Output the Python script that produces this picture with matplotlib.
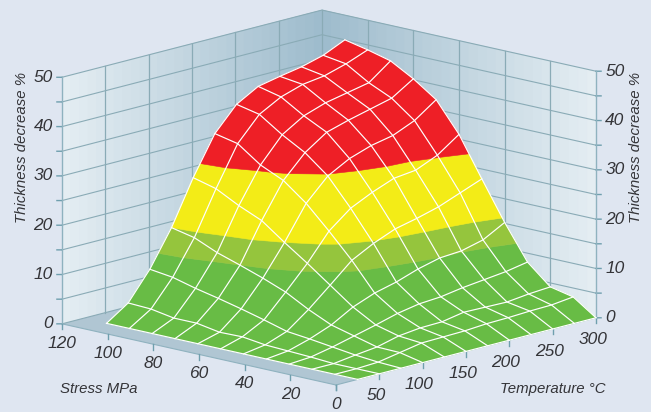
import matplotlib
matplotlib.use('Agg')
import matplotlib.pyplot as plt
import numpy as np
from mpl_toolkits.mplot3d import proj3d
from mpl_toolkits.mplot3d.art3d import Poly3DCollection

temperature = [25, 50, 75, 100, 125, 150, 175, 200, 225, 250, 275, 300]
stress = [0, 10, 20, 30, 40, 50, 60, 70, 80, 90, 100, 110]

# one row per stress value
row_s0 = [0, 0, 0, 0, 0, 0, 0, 0, 0, 0, 0, 0]
row_s10 = [0, 0, 0.2, 1.0, 1.8, 1.9, 2.0, 2.3, 2.4, 2.6, 2.7, 3.2]
row_s20 = [0, 0, 0.6, 1.1, 2.2, 2.7, 2.8, 3.6, 3.5, 3.4, 3.9, 4.2]
row_s30 = [0, 0.3, 1.2, 2.3, 3.4, 4.6, 5.4, 5.7, 6.4, 6.9, 7.4, 8.2]
row_s40 = [0, 0.5, 1.8, 3.5, 6.0, 7.7, 8.8, 10.3, 11.4, 11.7, 12.8, 15.2]
row_s50 = [0, 0.7, 2.3, 5.6, 9.4, 13.3, 15.6, 17.4, 18.4, 19.6, 21.3, 23.0]
row_s60 = [0, 1.3, 3.6, 8.1, 12.8, 18.2, 21.7, 23.8, 25.5, 26.0, 27.9, 31.0]
row_s70 = [0, 1.2, 4.8, 9.9, 16.0, 22.8, 27.2, 29.6, 31.1, 32.0, 33.9, 37.0]
row_s80 = [0, 2.0, 5.9, 11.5, 19.4, 26.4, 30.9, 33.9, 35.2, 36.3, 37.4, 40.2]
row_s90 = [0, 2.0, 6.9, 13.0, 21.4, 28.5, 33.5, 36.2, 37.7, 38.6, 39.5, 42.8]
row_s100 = [0, 2.8, 8.1, 15.0, 23.8, 31.8, 36.6, 39.0, 40.4, 41.0, 42.3, 44.0]
row_s110 = [0, 3.0, 8.7, 16.0, 25.0, 32.8, 37.6, 40.1, 41.0, 41.8, 43.0, 45.0]

band_edges = [0, 11.5, 16, 27.5, 60]
band_colors = ['#68bc45', '#95c53d', '#f3ec17', '#ee1f26']

z_ticks = [0, 10, 20, 30, 40, 50]
z_minor = [5, 15, 25, 35, 45]
stress_ticks = [0, 20, 40, 60, 80, 100, 120]
temp_ticks = [0, 50, 100, 150, 200, 250, 300]

BG = '#dfe6f1'
LINE = '#8aabb6'
TICK = '#6f9fae'
TEXT = '#343438'
FONT = ['Liberation Sans Narrow', 'Liberation Sans']


def clip_poly(poly, level, keep_above):
    # cut a polygon at a height, new corners sit on its edges
    out = []
    for i in range(len(poly)):
        p = poly[i]
        q = poly[(i + 1) % len(poly)]
        p_in = p[2] >= level if keep_above else p[2] <= level
        q_in = q[2] >= level if keep_above else q[2] <= level
        if p_in:
            out.append(p)
        if p_in != q_in:
            f = (level - p[2]) / (q[2] - p[2])
            out.append([p[j] + f * (q[j] - p[j]) for j in range(3)])
    return out


def band_polys(tt, ss, zz, low, high):
    polys = []
    for i in range(len(ss) - 1):
        for j in range(len(tt) - 1):
            quad = [[tt[j], ss[i], zz[i][j]], [tt[j + 1], ss[i], zz[i][j + 1]],
                    [tt[j + 1], ss[i + 1], zz[i + 1][j + 1]], [tt[j], ss[i + 1], zz[i + 1][j]]]
            part = clip_poly(quad, low, True)
            if part:
                part = clip_poly(part, high, False)
            if len(part) >= 3:
                polys.append(part)
    return polys


def fit_axes(ax):
    # place the square 3d axes so the box corners land on the wanted pixels
    proj = ax.get_proj()
    left = proj3d.proj_transform(0, 120, 0, proj)
    right = proj3d.proj_transform(300, 0, 0, proj)
    front = proj3d.proj_transform(0, 0, 0, proj)
    x0, x1 = ax.viewLim.intervalx
    y0, y1 = ax.viewLim.intervaly
    size = (596 - 62) * (x1 - x0) / (right[0] - left[0])
    px_left = 62 - size * (left[0] - x0) / (x1 - x0)
    px_bottom = (412 - 385) - size * (front[1] - y0) / (y1 - y0)
    ax.set_position([px_left / 651, px_bottom / 412, size / 651, size / 412])


def draw_walls(ax):
    light = np.array(matplotlib.colors.to_rgb('#e5eef3'))
    dark = np.array(matplotlib.colors.to_rgb('#9dbbcc'))
    steps = 30
    for k in range(steps):
        c = light + (dark - light) * (k + 0.5) / steps
        t0, t1 = 300 * k / steps, 300 * (k + 1) / steps
        s0, s1 = 120 * k / steps, 120 * (k + 1) / steps
        left = [[t0, 120, 0], [t1, 120, 0], [t1, 120, 50], [t0, 120, 50]]
        right = [[300, s0, 0], [300, s1, 0], [300, s1, 50], [300, s0, 50]]
        ax.add_collection3d(Poly3DCollection([left, right], facecolors=[c], edgecolors=[c],
                                             linewidths=0.4, zorder=1))
    floor = [[0, 0, 0], [300, 0, 0], [300, 120, 0], [0, 120, 0]]
    ax.add_collection3d(Poly3DCollection([floor], facecolors='#b0c6d3', edgecolors='none', zorder=2))


def draw_grid(ax):
    for z in sorted(z_ticks + z_minor):
        ax.plot([0, 300, 300], [120, 120, 0], [z, z, z], color=LINE, lw=0.8, zorder=3)
        # z ticks point straight out sideways on both outer edges
        ax.plot([0, -2.7], [120, 121.2], [z, z], color=TICK, lw=1.0, zorder=3)
        ax.plot([300, 302.7], [0, -1.2], [z, z], color=TICK, lw=1.0, zorder=3)
    for t in temp_ticks[1:-1]:
        ax.plot([t, t], [120, 120], [0, 50], color=LINE, lw=0.9, zorder=3)
    for s in stress_ticks[1:-1]:
        ax.plot([300, 300], [s, s], [0, 50], color=LINE, lw=0.9, zorder=3)
    ax.plot([300, 300], [120, 120], [0, 50], color=LINE, lw=0.9, zorder=3)
    ax.plot([0, 0], [120, 120], [0, 50], color='#8fb2bf', lw=1.0, zorder=3)
    ax.plot([300, 300], [0, 0], [0, 50], color='#8fb2bf', lw=1.0, zorder=3)
    ax.plot([0, 0], [0, 120], [0, 0], color='#8fb2bf', lw=0.8, zorder=3)
    ax.plot([0, 300], [0, 0], [0, 0], color='#8fb2bf', lw=0.8, zorder=3)
    for s in stress_ticks:
        ax.plot([0, 0], [s, s], [0, -1.1], color=TICK, lw=1.0, zorder=3)
    for t in temp_ticks:
        ax.plot([t, t], [0, 0], [0, -1.1], color=TICK, lw=1.0, zorder=3)


def tick_label(ax, t, s, z, text, ha):
    # text3d reports odd extents, so project the spot and write it in 2d
    x, y, _ = proj3d.proj_transform(t, s, z, ax.get_proj())
    ax.text2D(x, y, text, transform=ax.transData, ha=ha, va='center', family=FONT,
              style='italic', color=TEXT, fontsize=12.5, zorder=9)


def draw_labels(fig, ax):
    for z in z_ticks:
        tick_label(ax, -5, 122.2, z, str(z), 'right')
        tick_label(ax, 305, -2.2, z, str(z), 'left')
    for s in stress_ticks:
        tick_label(ax, 0, s, -3.9, str(s), 'center')
    for t in temp_ticks[1:]:
        tick_label(ax, t - 4, 0, -4.3, str(t), 'center')
    title = dict(family=FONT, style='italic', color=TEXT, fontsize=10.8)
    fig.text(22 / 651, 1 - 147 / 412, 'Thickness decrease %', rotation=90, ha='center', va='center', **title)
    fig.text(636 / 651, 1 - 147 / 412, 'Thickness decrease %', rotation=90, ha='center', va='center', **title)
    fig.text(99 / 651, 1 - 389 / 412, 'Stress MPa', ha='center', va='center', **title)
    fig.text(553 / 651, 1 - 389 / 412, 'Temperature °C', ha='center', va='center', **title)


def main():
    z_rows = [row_s0, row_s10, row_s20, row_s30, row_s40, row_s50,
              row_s60, row_s70, row_s80, row_s90, row_s100, row_s110]

    fig = plt.figure(figsize=(6.51, 4.12), dpi=100, facecolor=BG)
    ax = fig.add_subplot(111, projection='3d', computed_zorder=False)
    ax.set_proj_type('ortho')
    ax.view_init(elev=13.9, azim=-137.1)
    ax.set_box_aspect((382, 374, 254))
    ax.set_xlim(0, 300)
    ax.set_ylim(0, 120)
    ax.set_zlim(0, 50)
    ax.set_axis_off()
    ax.patch.set_visible(False)
    fit_axes(ax)

    draw_walls(ax)
    draw_grid(ax)

    for k, color in enumerate(band_colors):
        polys = band_polys(temperature, stress, z_rows, band_edges[k], band_edges[k + 1])
        ax.add_collection3d(Poly3DCollection(polys, facecolors=color, edgecolors=color,
                                             linewidths=0.4, zorder=5))

    for i, s in enumerate(stress):
        ax.plot(temperature, [s] * len(temperature), z_rows[i], color='white', lw=0.85, zorder=6)
    for j, t in enumerate(temperature):
        ax.plot([t] * len(stress), stress, [r[j] for r in z_rows], color='white', lw=0.85, zorder=6)

    ax.set_xlim(0, 300)
    ax.set_ylim(0, 120)
    ax.set_zlim(0, 50)
    draw_labels(fig, ax)
    fig.savefig('out.png', dpi=100, facecolor=BG)


if __name__ == '__main__':
    main()
